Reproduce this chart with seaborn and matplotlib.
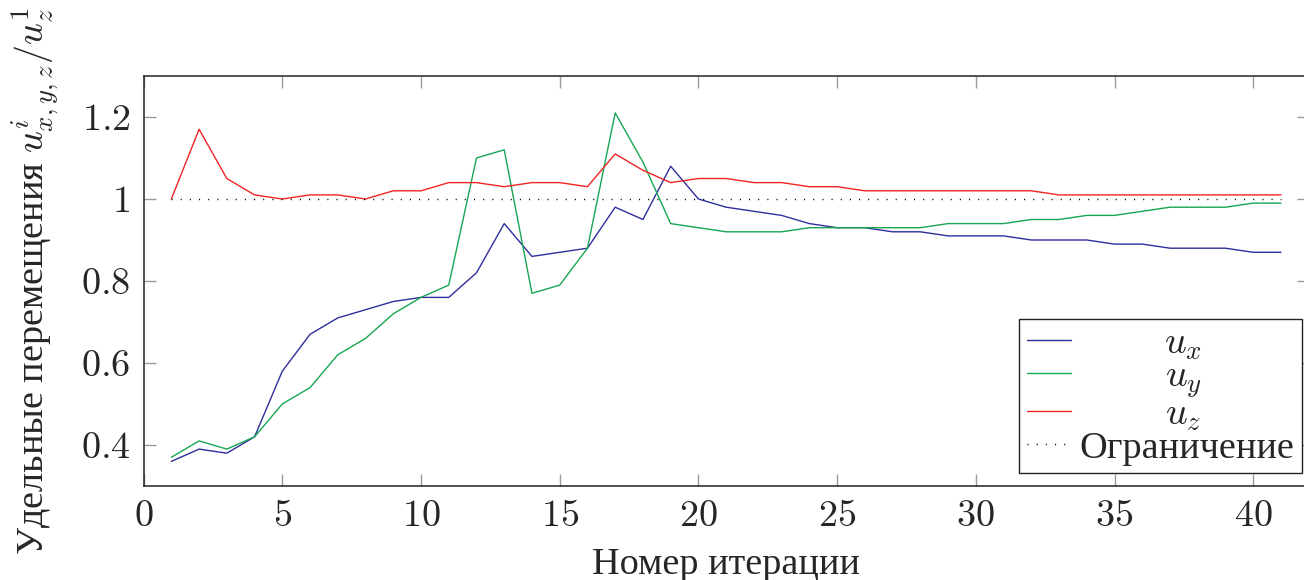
import numpy as np
import pandas as pd
import matplotlib
matplotlib.use("Agg")
import matplotlib.pyplot as plt
import seaborn as sns

# ---- data ----
iterations = list(range(1, 42))
u_x = [0.36, 0.39, 0.38, 0.42, 0.58, 0.67, 0.71, 0.73, 0.75, 0.76,
       0.76, 0.82, 0.94, 0.86, 0.87, 0.88, 0.98, 0.95, 1.08, 1.00,
       0.98, 0.97, 0.96, 0.94, 0.93, 0.93, 0.92, 0.92, 0.91, 0.91,
       0.91, 0.90, 0.90, 0.90, 0.89, 0.89, 0.88, 0.88, 0.88, 0.87, 0.87]
u_y = [0.37, 0.41, 0.39, 0.42, 0.50, 0.54, 0.62, 0.66, 0.72, 0.76,
       0.79, 1.10, 1.12, 0.77, 0.79, 0.88, 1.21, 1.09, 0.94, 0.93,
       0.92, 0.92, 0.92, 0.93, 0.93, 0.93, 0.93, 0.93, 0.94, 0.94,
       0.94, 0.95, 0.95, 0.96, 0.96, 0.97, 0.98, 0.98, 0.98, 0.99, 0.99]
u_z = [1.00, 1.17, 1.05, 1.01, 1.00, 1.01, 1.01, 1.00, 1.02, 1.02,
       1.04, 1.04, 1.03, 1.04, 1.04, 1.03, 1.11, 1.07, 1.04, 1.05,
       1.05, 1.04, 1.04, 1.03, 1.03, 1.02, 1.02, 1.02, 1.02, 1.02,
       1.02, 1.02, 1.01, 1.01, 1.01, 1.01, 1.01, 1.01, 1.01, 1.01, 1.01]
limit = [1.0] * len(iterations)

series_labels = ["$u_x$", "$u_y$", "$u_z$", "Ограничение"]
x_ticks = [0, 5, 10, 15, 20, 25, 30, 35, 40]
x_tick_labels = ["$0$", "$5$", "$10$", "$15$", "$20$", "$25$", "$30$", "$35$", "$40$"]
y_ticks = [0.4, 0.6, 0.8, 1.0, 1.2]
y_tick_labels = ["$0.4$", "$0.6$", "$0.8$", "$1$", "$1.2$"]
x_label = "Номер итерации"
y_label = "Удельные перемещения $u^i_{x,y,z}/u^1_z$"

# ---- style ----
sns.set_theme(style="ticks")
plt.rcParams["font.family"] = ["Liberation Serif", "DejaVu Serif"]
plt.rcParams["mathtext.fontset"] = "cm"
plt.rcParams["axes.unicode_minus"] = False

FS = 27.5
fig = plt.figure(figsize=(13.04, 5.80), dpi=100)
W, H = 1304, 580
left, right, top, bottom = 143.6, 1308.7, 76.0, 486.0
ax = fig.add_axes([left / W, 1 - bottom / H, (right - left) / W, (bottom - top) / H])

c_x, c_y, c_z = "#2e2e9c", "#17a652", "#f02424"
sns.lineplot(x=iterations, y=u_x, ax=ax, color=c_x, lw=1.0, label=series_labels[0])
sns.lineplot(x=iterations, y=u_y, ax=ax, color=c_y, lw=1.0, label=series_labels[1])
sns.lineplot(x=iterations, y=u_z, ax=ax, color=c_z, lw=1.0, label=series_labels[2])
sns.lineplot(x=iterations, y=limit, ax=ax, color="black", lw=1.0,
             linestyle=(0, (0.8, 5.8)), label=series_labels[3])

ax.set_xlim(0, 42)
ax.set_ylim(0.3, 1.3)
ax.set_xticks(x_ticks)
ax.set_xticklabels(x_tick_labels, fontsize=FS)
ax.set_yticks(y_ticks)
ax.set_yticklabels(y_tick_labels, fontsize=FS)
ax.tick_params(direction="in", length=8.5, width=1.0, color="#9a9a9a",
               top=True, right=True, pad=9.5)
for s in ax.spines.values():
    s.set_visible(True)
    s.set_color("#222222")
    s.set_linewidth(1.1)

ax.set_xlabel(x_label, fontsize=FS, labelpad=10)
ax.set_ylabel(y_label, fontsize=FS, labelpad=14)

leg = ax.legend(loc="lower left", bbox_to_anchor=(0.7514, 0.031), fontsize=FS,
                frameon=True, fancybox=False, edgecolor="#222222", framealpha=1,
                handlelength=1.15, handletextpad=0.22, labelspacing=-0.06,
                borderpad=0.2, borderaxespad=0)
leg.get_frame().set_linewidth(1.0)

# center the legend labels like pgfplots
fig.canvas.draw()
r = fig.canvas.get_renderer()
texts = leg.get_texts()
widths = [t.get_window_extent(r).width for t in texts]
wmax = max(widths)
for t, w in zip(texts, widths):
    dx = (wmax - w) / 2
    if dx > 0:
        dx -= 3
    t.set_position((dx, 0))

fig.savefig("out.png", dpi=100)
